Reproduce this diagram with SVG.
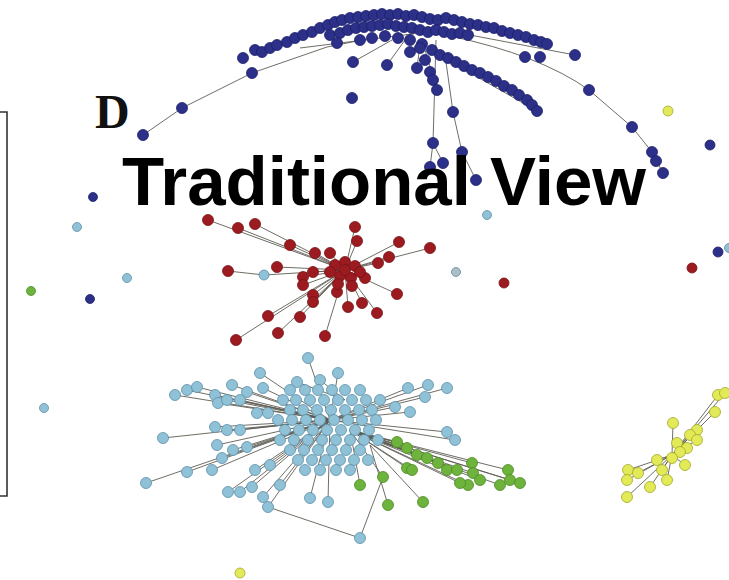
<svg xmlns="http://www.w3.org/2000/svg" width="729" height="580" viewBox="0 0 729 580">
<style>
.b{fill:#2c3088;stroke:#1c1f6a;stroke-width:0.8}
.r{fill:#9c1b20;stroke:#781014;stroke-width:0.8}
.c{fill:#8fc1d7;stroke:#5d8fa8;stroke-width:0.8}
.g{fill:#6db33c;stroke:#4c8a25;stroke-width:0.8}
.y{fill:#e2ea58;stroke:#a3a82b;stroke-width:0.8}
.e{fill:none;stroke:#5f5c54;stroke-width:0.9}
.t{font-family:"Liberation Sans",Arial,sans-serif;font-weight:bold;fill:#000}
</style>
<rect width="729" height="580" fill="#fff"/>
<path d="M0 112H7V496H0" fill="none" stroke="#333" stroke-width="1.6"/>
<g id="connectors" class="e">
<path d="M143 135L182 108L252 73L327 47L362 40M300 48L420 33M353 62L392 40M387 65L405 40M450 36Q540 55 589 90L632 127L652 152L663 173M470 35L575 55M436 40L433 143L430 167M433 143L443 163M445 55L453 112L462 152L476 180M430 50L537 111M417 68L420 45M437 90L425 50"/>
<path d="M345 270L208 220M345 270L238 228M345 270L255 224M345 270L290 245M345 270L315 253M345 270L330 253M345 270L355 227M345 270L357 241M345 270L399 242M345 270L430 248M345 270L389 257M345 270L378 263M228 271L264 275L345 270M345 270L277 267M345 270L303 277M345 270L313 272M345 270L303 285M345 270L365 278M345 270L397 294M345 270L337 292M345 270L313 295M345 270L313 302M345 270L348 307M345 270L362 303M345 270L377 313M345 270L300 317M345 270L268 316M345 270L278 333M345 270L236 340M345 270L325 336"/>
<path d="M330 420L308 358M330 420L260 373M330 420L338 373M330 420L175 395M330 420L187 390M330 420L197 387M330 420L215 395M330 420L232 385M330 420L247 392M330 420L263 388M330 420L218 403M330 420L227 400M330 420L240 400M330 420L163 438M330 420L215 427M330 420L227 430M330 420L240 430M330 420L217 445M330 420L222 458M330 420L233 450M330 420L247 447M330 420L187 472M330 420L212 470M330 420L146 483M330 420L228 492M330 420L240 492M330 420L252 487M330 420L263 497M330 420L268 507M330 420L280 485M330 420L328 502M330 420L310 498M268 507L360 538L383 477M330 420L408 388M330 420L428 385M330 420L447 388M330 420L425 397M330 420L395 407M330 420L410 412M330 420L447 432M330 420L455 440M330 420L270 465M330 420L255 470M345 400L320 380M345 400L297 382"/>
<path d="M350 430L397 442M350 430L407 448M350 430L417 455M350 430L427 458M350 430L438 463M350 430L447 470M350 430L457 470M350 430L472 463M350 430L473 473M350 430L468 485M350 430L480 480M350 430L500 485M350 430L508 470M350 430L510 480M350 430L520 483M350 430L407 468M350 430L412 470M350 430L383 477M350 430L360 485M370 445L388 505M370 445L423 502M350 430L460 483"/>
<path d="M672 455L718 395M672 455L725 393M672 455L715 412M672 455L673 423M672 455L697 430M672 455L690 435M672 455L697 440M672 455L657 460M672 455L685 465M672 455L662 470M672 455L628 470M672 455L627 480M672 455L627 497M672 455L650 487M672 455L667 480M672 455L638 473"/>
</g>
<g id="blue-cluster" class="b">
<circle cx="243" cy="58" r="5.5"/><circle cx="255" cy="50" r="5.5"/><circle cx="262" cy="52" r="5.5"/><circle cx="270" cy="48" r="5.5"/><circle cx="277" cy="45" r="5.5"/><circle cx="287" cy="42" r="5.5"/><circle cx="295" cy="38" r="5.5"/><circle cx="303" cy="35" r="5.5"/><circle cx="312" cy="32" r="5.5"/><circle cx="320" cy="28" r="5.5"/><circle cx="328" cy="25" r="5.5"/><circle cx="335" cy="22" r="5.5"/><circle cx="342" cy="20" r="5.5"/><circle cx="350" cy="18" r="5.5"/><circle cx="358" cy="17" r="5.5"/><circle cx="366" cy="16" r="5.5"/><circle cx="374" cy="15" r="5.5"/><circle cx="382" cy="14" r="5.5"/><circle cx="390" cy="15" r="5.5"/><circle cx="398" cy="14" r="5.5"/><circle cx="406" cy="16" r="5.5"/><circle cx="414" cy="15" r="5.5"/><circle cx="422" cy="17" r="5.5"/><circle cx="430" cy="19" r="5.5"/><circle cx="438" cy="20" r="5.5"/><circle cx="446" cy="18" r="5.5"/><circle cx="454" cy="20" r="5.5"/><circle cx="462" cy="22" r="5.5"/><circle cx="470" cy="24" r="5.5"/><circle cx="478" cy="25" r="5.5"/><circle cx="486" cy="27" r="5.5"/><circle cx="494" cy="28" r="5.5"/><circle cx="502" cy="31" r="5.5"/><circle cx="510" cy="33" r="5.5"/><circle cx="518" cy="35" r="5.5"/><circle cx="526" cy="37" r="5.5"/><circle cx="534" cy="40" r="5.5"/><circle cx="541" cy="42" r="5.5"/><circle cx="547" cy="44" r="5.5"/>
<circle cx="330" cy="35" r="5.5"/><circle cx="340" cy="33" r="5.5"/><circle cx="348" cy="30" r="5.5"/><circle cx="356" cy="28" r="5.5"/><circle cx="364" cy="27" r="5.5"/><circle cx="372" cy="26" r="5.5"/><circle cx="380" cy="25" r="5.5"/><circle cx="388" cy="24" r="5.5"/><circle cx="396" cy="26" r="5.5"/><circle cx="404" cy="27" r="5.5"/><circle cx="412" cy="28" r="5.5"/><circle cx="420" cy="30" r="5.5"/><circle cx="428" cy="32" r="5.5"/><circle cx="436" cy="30" r="5.5"/><circle cx="444" cy="32" r="5.5"/><circle cx="452" cy="34" r="5.5"/><circle cx="460" cy="33" r="5.5"/><circle cx="468" cy="35" r="5.5"/>
<circle cx="337" cy="43" r="5.5"/><circle cx="360" cy="40" r="5.5"/><circle cx="372" cy="38" r="5.5"/><circle cx="385" cy="36" r="5.5"/><circle cx="398" cy="38" r="5.5"/><circle cx="410" cy="40" r="5.5"/><circle cx="422" cy="44" r="5.5"/><circle cx="432" cy="50" r="5.5"/><circle cx="440" cy="55" r="5.5"/><circle cx="410" cy="52" r="5.5"/><circle cx="420" cy="48" r="5.5"/><circle cx="425" cy="60" r="5.5"/>
<circle cx="353" cy="62" r="5.5"/><circle cx="387" cy="65" r="5.5"/><circle cx="417" cy="68" r="5.5"/><circle cx="352" cy="98" r="5.5"/><circle cx="430" cy="72" r="5.5"/><circle cx="433" cy="80" r="5.5"/><circle cx="437" cy="90" r="5.5"/>
<circle cx="448" cy="58" r="5.5"/><circle cx="456" cy="62" r="5.5"/><circle cx="464" cy="66" r="5.5"/><circle cx="472" cy="70" r="5.5"/><circle cx="480" cy="73" r="5.5"/><circle cx="488" cy="77" r="5.5"/><circle cx="496" cy="81" r="5.5"/><circle cx="504" cy="86" r="5.5"/><circle cx="512" cy="90" r="5.5"/><circle cx="519" cy="95" r="5.5"/><circle cx="527" cy="100" r="5.5"/><circle cx="532" cy="105" r="5.5"/><circle cx="537" cy="111" r="5.5"/>
<circle cx="525" cy="57" r="5.5"/><circle cx="540" cy="57" r="5.5"/><circle cx="575" cy="55" r="5.5"/>
<circle cx="589" cy="90" r="5.5"/><circle cx="632" cy="127" r="5.5"/><circle cx="652" cy="152" r="5.5"/><circle cx="656" cy="161" r="5.5"/><circle cx="663" cy="173" r="5.5"/>
<circle cx="453" cy="112" r="5.5"/><circle cx="433" cy="143" r="5.5"/><circle cx="462" cy="152" r="5.5"/><circle cx="443" cy="163" r="5.5"/><circle cx="430" cy="167" r="5.5"/><circle cx="476" cy="180" r="5.5"/>
<circle cx="252" cy="73" r="5.5"/><circle cx="182" cy="108" r="5.5"/><circle cx="143" cy="135" r="5.5"/>
<circle cx="93" cy="197" r="4.5"/><circle cx="90" cy="299" r="4.5"/><circle cx="710" cy="145" r="5"/><circle cx="718" cy="252" r="5"/>
</g>
<g id="red-cluster" class="r">
<circle cx="208" cy="220" r="5.5"/><circle cx="238" cy="228" r="5.5"/><circle cx="255" cy="224" r="5.5"/><circle cx="290" cy="245" r="5.5"/><circle cx="315" cy="253" r="5.5"/><circle cx="330" cy="253" r="5.5"/><circle cx="355" cy="227" r="5.5"/><circle cx="357" cy="241" r="5.5"/><circle cx="399" cy="242" r="5.5"/><circle cx="430" cy="248" r="5.5"/><circle cx="389" cy="257" r="5.5"/><circle cx="378" cy="263" r="5.5"/><circle cx="228" cy="271" r="5.5"/><circle cx="277" cy="267" r="5.5"/><circle cx="303" cy="277" r="5.5"/><circle cx="313" cy="272" r="5.5"/><circle cx="303" cy="285" r="5.5"/><circle cx="365" cy="278" r="5.5"/><circle cx="397" cy="294" r="5.5"/><circle cx="337" cy="292" r="5.5"/><circle cx="313" cy="295" r="5.5"/><circle cx="313" cy="302" r="5.5"/><circle cx="348" cy="307" r="5.5"/><circle cx="362" cy="303" r="5.5"/><circle cx="377" cy="313" r="5.5"/><circle cx="300" cy="317" r="5.5"/><circle cx="268" cy="316" r="5.5"/><circle cx="278" cy="333" r="5.5"/><circle cx="236" cy="340" r="5.5"/><circle cx="325" cy="336" r="5.5"/>
<circle cx="335" cy="265" r="5.5"/><circle cx="345" cy="262" r="5.5"/><circle cx="355" cy="266" r="5.5"/><circle cx="340" cy="276" r="5.5"/><circle cx="351" cy="278" r="5.5"/><circle cx="360" cy="272" r="5.5"/><circle cx="338" cy="284" r="5.5"/><circle cx="352" cy="286" r="5.5"/><circle cx="330" cy="272" r="5.5"/><circle cx="345" cy="270" r="5.5"/>
<circle cx="504" cy="283" r="5"/><circle cx="692" cy="268" r="5"/>
</g>
<g id="lightblue-cluster" class="c">
<circle cx="308" cy="358" r="5.5"/><circle cx="260" cy="373" r="5.5"/><circle cx="338" cy="373" r="5.5"/><circle cx="175" cy="395" r="5.5"/><circle cx="187" cy="390" r="5.5"/><circle cx="197" cy="387" r="5.5"/><circle cx="215" cy="395" r="5.5"/><circle cx="232" cy="385" r="5.5"/><circle cx="247" cy="392" r="5.5"/><circle cx="263" cy="388" r="5.5"/><circle cx="218" cy="403" r="5.5"/><circle cx="227" cy="400" r="5.5"/><circle cx="240" cy="400" r="5.5"/><circle cx="297" cy="382" r="5.5"/><circle cx="320" cy="380" r="5.5"/><circle cx="163" cy="438" r="5.5"/><circle cx="215" cy="427" r="5.5"/><circle cx="227" cy="430" r="5.5"/><circle cx="240" cy="430" r="5.5"/><circle cx="268" cy="413" r="5.5"/><circle cx="257" cy="413" r="5.5"/><circle cx="217" cy="445" r="5.5"/><circle cx="222" cy="458" r="5.5"/><circle cx="233" cy="450" r="5.5"/><circle cx="247" cy="447" r="5.5"/><circle cx="187" cy="472" r="5.5"/><circle cx="212" cy="470" r="5.5"/><circle cx="146" cy="483" r="5.5"/><circle cx="228" cy="492" r="5.5"/><circle cx="240" cy="492" r="5.5"/><circle cx="252" cy="487" r="5.5"/><circle cx="263" cy="497" r="5.5"/><circle cx="268" cy="507" r="5.5"/><circle cx="280" cy="485" r="5.5"/><circle cx="328" cy="502" r="5.5"/><circle cx="310" cy="498" r="5.5"/><circle cx="360" cy="538" r="5.5"/><circle cx="408" cy="388" r="5.5"/><circle cx="428" cy="385" r="5.5"/><circle cx="447" cy="388" r="5.5"/><circle cx="425" cy="397" r="5.5"/><circle cx="395" cy="407" r="5.5"/><circle cx="410" cy="412" r="5.5"/><circle cx="447" cy="432" r="5.5"/><circle cx="455" cy="440" r="5.5"/><circle cx="270" cy="465" r="5.5"/><circle cx="255" cy="470" r="5.5"/>
<circle cx="290" cy="390" r="5.5"/><circle cx="305" cy="390" r="5.5"/><circle cx="318" cy="390" r="5.5"/><circle cx="332" cy="390" r="5.5"/><circle cx="345" cy="390" r="5.5"/><circle cx="360" cy="390" r="5.5"/>
<circle cx="283" cy="400" r="5.5"/><circle cx="296" cy="400" r="5.5"/><circle cx="310" cy="400" r="5.5"/><circle cx="324" cy="400" r="5.5"/><circle cx="338" cy="400" r="5.5"/><circle cx="352" cy="400" r="5.5"/><circle cx="366" cy="400" r="5.5"/><circle cx="380" cy="400" r="5.5"/>
<circle cx="290" cy="410" r="5.5"/><circle cx="303" cy="410" r="5.5"/><circle cx="317" cy="410" r="5.5"/><circle cx="331" cy="410" r="5.5"/><circle cx="345" cy="410" r="5.5"/><circle cx="359" cy="410" r="5.5"/><circle cx="372" cy="410" r="5.5"/>
<circle cx="278" cy="420" r="5.5"/><circle cx="292" cy="420" r="5.5"/><circle cx="306" cy="420" r="5.5"/><circle cx="320" cy="420" r="5.5"/><circle cx="334" cy="420" r="5.5"/><circle cx="348" cy="420" r="5.5"/><circle cx="362" cy="420" r="5.5"/><circle cx="376" cy="420" r="5.5"/>
<circle cx="285" cy="430" r="5.5"/><circle cx="299" cy="430" r="5.5"/><circle cx="313" cy="430" r="5.5"/><circle cx="327" cy="430" r="5.5"/><circle cx="341" cy="430" r="5.5"/><circle cx="355" cy="430" r="5.5"/><circle cx="369" cy="430" r="5.5"/>
<circle cx="280" cy="440" r="5.5"/><circle cx="294" cy="440" r="5.5"/><circle cx="308" cy="440" r="5.5"/><circle cx="322" cy="440" r="5.5"/><circle cx="336" cy="440" r="5.5"/><circle cx="350" cy="440" r="5.5"/><circle cx="364" cy="440" r="5.5"/><circle cx="378" cy="440" r="5.5"/>
<circle cx="290" cy="450" r="5.5"/><circle cx="304" cy="450" r="5.5"/><circle cx="318" cy="450" r="5.5"/><circle cx="332" cy="450" r="5.5"/><circle cx="346" cy="450" r="5.5"/><circle cx="360" cy="450" r="5.5"/>
<circle cx="298" cy="460" r="5.5"/><circle cx="312" cy="460" r="5.5"/><circle cx="326" cy="460" r="5.5"/><circle cx="340" cy="460" r="5.5"/><circle cx="354" cy="460" r="5.5"/><circle cx="368" cy="460" r="5.5"/>
<circle cx="305" cy="470" r="5.5"/><circle cx="320" cy="470" r="5.5"/><circle cx="336" cy="470" r="5.5"/><circle cx="350" cy="470" r="5.5"/>
<circle cx="264" cy="275" r="5"/><circle cx="77" cy="227" r="4.5"/><circle cx="127" cy="278" r="4.5"/><circle cx="44" cy="408" r="4.5"/><circle cx="487" cy="215" r="4.5"/><circle cx="456" cy="272" r="4.5" fill="#a9bfc4"/><circle cx="729" cy="248" r="4.5"/>
</g>
<g id="green-cluster" class="g">
<circle cx="397" cy="442" r="5.5"/><circle cx="407" cy="448" r="5.5"/><circle cx="417" cy="455" r="5.5"/><circle cx="427" cy="458" r="5.5"/><circle cx="438" cy="463" r="5.5"/><circle cx="447" cy="470" r="5.5"/><circle cx="457" cy="470" r="5.5"/><circle cx="472" cy="463" r="5.5"/><circle cx="473" cy="473" r="5.5"/><circle cx="468" cy="485" r="5.5"/><circle cx="480" cy="480" r="5.5"/><circle cx="500" cy="485" r="5.5"/><circle cx="508" cy="470" r="5.5"/><circle cx="510" cy="480" r="5.5"/><circle cx="520" cy="483" r="5.5"/><circle cx="407" cy="468" r="5.5"/><circle cx="412" cy="470" r="5.5"/><circle cx="383" cy="477" r="5.5"/><circle cx="360" cy="485" r="5.5"/><circle cx="388" cy="505" r="5.5"/><circle cx="423" cy="502" r="5.5"/><circle cx="460" cy="483" r="5.5"/>
<circle cx="31" cy="291" r="4.5"/>
</g>
<g id="yellow-cluster" class="y">
<circle cx="718" cy="395" r="5.5"/><circle cx="725" cy="393" r="5.5"/><circle cx="715" cy="412" r="5.5"/><circle cx="673" cy="423" r="5.5"/><circle cx="697" cy="430" r="5.5"/><circle cx="690" cy="435" r="5.5"/><circle cx="677" cy="443" r="5.5"/><circle cx="697" cy="440" r="5.5"/><circle cx="687" cy="448" r="5.5"/><circle cx="680" cy="452" r="5.5"/><circle cx="672" cy="458" r="5.5"/><circle cx="657" cy="460" r="5.5"/><circle cx="685" cy="465" r="5.5"/><circle cx="662" cy="470" r="5.5"/><circle cx="628" cy="470" r="5.5"/><circle cx="627" cy="480" r="5.5"/><circle cx="627" cy="497" r="5.5"/><circle cx="650" cy="487" r="5.5"/><circle cx="667" cy="480" r="5.5"/><circle cx="638" cy="473" r="5.5"/>
<circle cx="668" cy="111" r="5"/><circle cx="240" cy="573" r="5"/>
</g>
<text x="95" y="128" font-family="'Liberation Serif','Times New Roman',serif" font-weight="bold" font-size="48" fill="#111">D</text>
<text class="t" x="122" y="205" font-size="69">Traditional View</text>
</svg>
